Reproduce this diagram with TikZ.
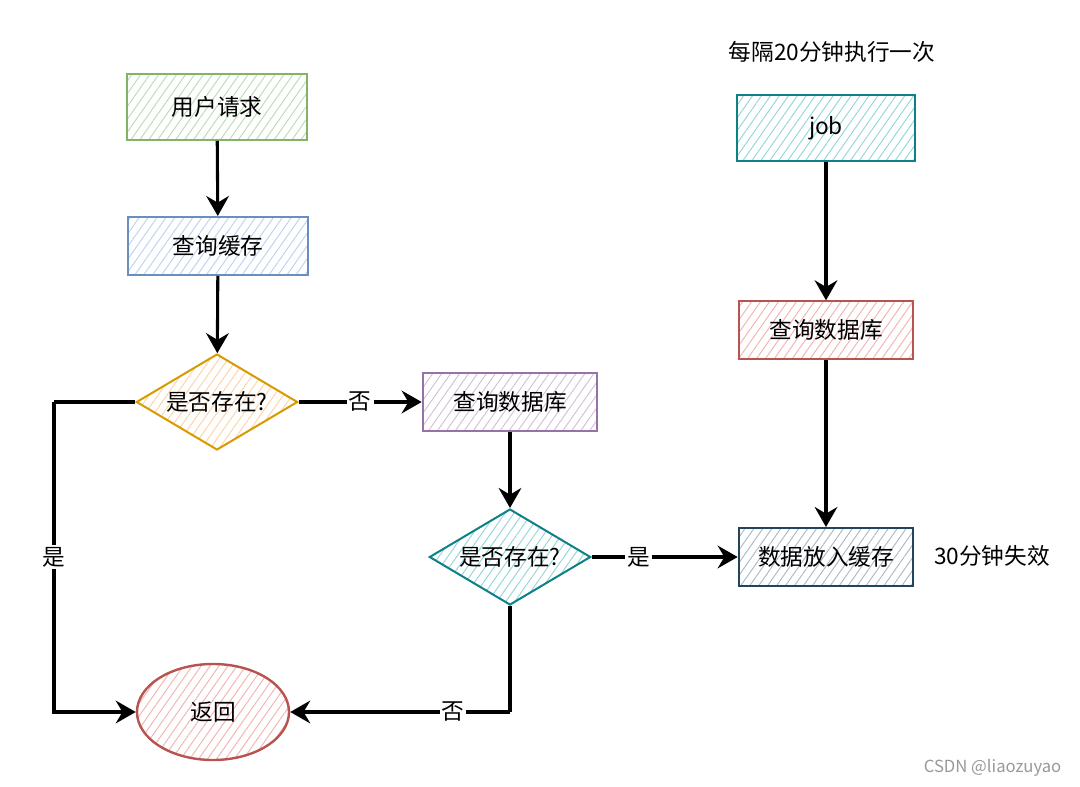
\documentclass[tikz,border=0pt]{standalone}
\usepackage{fontspec}
\setmainfont{Noto Sans CJK SC}
\usetikzlibrary{shapes.geometric,arrows.meta,patterns.meta}
\definecolor{gS}{HTML}{82B366}\definecolor{gF}{HTML}{B9DDB5}
\definecolor{bS}{HTML}{6C8EBF}\definecolor{bF}{HTML}{BBD3F2}
\definecolor{oS}{HTML}{D79B00}\definecolor{oF}{HTML}{FFD2A6}
\definecolor{pS}{HTML}{9673A6}\definecolor{pF}{HTML}{D3C0DC}
\definecolor{tS}{HTML}{0E8088}\definecolor{tF}{HTML}{93D6DA}
\definecolor{rS}{HTML}{B85450}\definecolor{rF}{HTML}{F3B3B0}
\definecolor{nS}{HTML}{23445D}\definecolor{nF}{HTML}{A9BAC7}
\begin{document}
\begin{tikzpicture}[x=0.75pt,y=-0.75pt,
  font=\fontsize{17}{20}\selectfont,
  hatch/.style={pattern={Lines[angle=55,distance=5.5pt,line width=0.7pt]},pattern color=#1},
  box/.style={draw,line width=1.5pt,rectangle,inner sep=0pt,align=center},
  dia/.style={draw,line width=1.5pt,diamond,aspect=1.68,inner sep=0pt,minimum width=121pt,minimum height=72pt},
  conn/.style={line width=2.3pt,-{Stealth[length=15pt,width=17pt,inset=5pt]}},
  plain/.style={line width=2.3pt},
  lbl/.style={fill=white,inner sep=1.5pt}]
\useasboundingbox (0,0) rectangle (1080,787);
\fill[white] (0,0) rectangle (1080,787);

\node[box,draw=gS,hatch=gF,minimum width=135pt,minimum height=50pt] (user) at (217,107) {用户请求};
\node[box,draw=bS,hatch=bF,minimum width=135pt,minimum height=43.5pt] (cache) at (218,246) {查询缓存};
\node[dia,draw=oS,hatch=oF] (d1) at (217,402) {是否存在?};
\node[box,draw=pS,hatch=pF,minimum width=131pt,minimum height=43.5pt] (db1) at (510,402) {查询数据库};
\node[dia,draw=tS,hatch=tF] (d2) at (510,557) {是否存在?};
\node[ellipse,draw=rS,line width=1.8pt,hatch=rF,minimum width=114pt,minimum height=72pt,inner sep=0pt] (ret) at (213,712) {返回};

\node (title) at (832,52) {每隔20分钟执行一次};
\node[box,draw=tS,hatch=tF,minimum width=134pt,minimum height=49pt] (job) at (826,128) {job};
\node[box,draw=rS,hatch=rF,minimum width=131pt,minimum height=43pt] (db2) at (826,330) {查询数据库};
\node[box,draw=nS,hatch=nF,minimum width=131pt,minimum height=43.5pt] (put) at (826,557) {数据放入缓存};
\node (exp) at (992,556) {30分钟失效};
\node[text=black!40,font=\fontsize{12.5}{15}\selectfont,anchor=east] (wm) at (1066,768) {CSDN @liaozuyao};

\draw[conn] (user) -- (cache);
\draw[conn] (cache) -- (d1);
\draw[conn] (d1.east) -- node[lbl] {否} (db1.west);
\coordinate (c1) at (54,402);
\coordinate (c2) at (54,712);
\draw[plain] (d1.west) -- (c1);
\draw[conn] (c1) -- node[lbl,pos=0.5] {是} (c2) -- (ret.west);
\draw[conn] (db1) -- (d2);
\draw[conn] (d2.east) -- node[lbl,pos=0.32] {是} (put.west);
\coordinate (c3) at (510,712);
\draw[plain] (d2.south) -- (c3);
\draw[conn] (c3) -- node[lbl,pos=0.26] {否} (ret.east);
\draw[conn] (job) -- (db2);
\draw[conn] (db2) -- (put);
\end{tikzpicture}
\end{document}
